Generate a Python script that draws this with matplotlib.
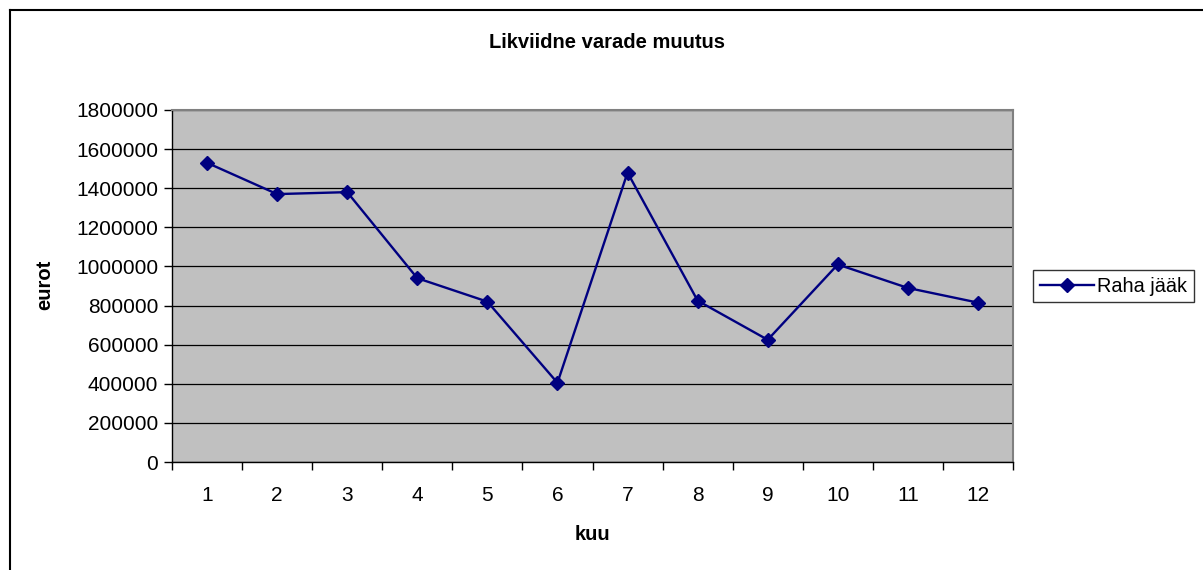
import matplotlib
matplotlib.use("Agg")
import matplotlib.pyplot as plt
from matplotlib.lines import Line2D
from matplotlib.ticker import FixedLocator, NullFormatter

months = [1, 2, 3, 4, 5, 6, 7, 8, 9, 10, 11, 12]
month_labels = ["1", "2", "3", "4", "5", "6", "7", "8", "9", "10", "11", "12"]
raha_jaak = [1530000, 1370000, 1380000, 940000, 820000, 405000,
             1480000, 825000, 625000, 1010000, 890000, 815000]
y_ticks = [0, 200000, 400000, 600000, 800000, 1000000, 1200000,
           1400000, 1600000, 1800000]

plt.rcParams['font.family'] = ['Liberation Sans', 'DejaVu Sans']

W, H = 1203, 570
fig = plt.figure(figsize=(W / 100, H / 100), dpi=100)
fig.patch.set_facecolor('white')

L, R, T, B = 172, 1013, 110, 462
ax = fig.add_axes([L / W, 1 - B / H, (R - L) / W, (B - T) / H])
ax.set_facecolor('#C0C0C0')

ax.plot(months, raha_jaak, color='#000080', lw=1.7, marker='D', ms=7.5,
        mfc='#000080', mec='#000080', label='Raha jääk', zorder=3)

ax.set_xlim(0.5, 12.5)
ax.set_ylim(0, 1800000)
ax.set_yticks(y_ticks)
ax.set_yticklabels([str(v) for v in y_ticks])
ax.yaxis.grid(True, color='black', lw=0.9)
ax.set_axisbelow(True)

ax.xaxis.set_major_locator(FixedLocator([m - 0.5 for m in months] + [12.5]))
ax.xaxis.set_major_formatter(NullFormatter())
ax.xaxis.set_minor_locator(FixedLocator(months))
ax.set_xticklabels(month_labels, minor=True)
ax.tick_params(axis='x', which='major', direction='out', length=6, width=1, color='black')
ax.tick_params(axis='x', which='minor', length=0, pad=17, labelsize=15)
ax.tick_params(axis='y', direction='out', length=6, width=1, color='black', labelsize=15, pad=4)

for s in ['left', 'bottom']:
    ax.spines[s].set_color('black')
    ax.spines[s].set_linewidth(1)
for s in ['top', 'right']:
    ax.spines[s].set_color('#808080')
    ax.spines[s].set_linewidth(1.5)

fig.text(607 / W, 1 - 42 / H, 'Likviidne varade muutus', ha='center', va='center',
         fontsize=14.5, fontweight='bold')
fig.text(592 / W, 1 - 535 / H, 'kuu', ha='center', va='center',
         fontsize=14.5, fontweight='bold')
fig.text(45 / W, 1 - 285 / H, 'eurot', ha='center', va='center', rotation=90,
         fontsize=14.5, fontweight='bold')

leg = fig.legend(loc='center left', bbox_to_anchor=(1033 / W, 1 - 286 / H),
                 frameon=True, fancybox=False, edgecolor='black', fontsize=14.3,
                 handlelength=2.7, borderpad=0.35, handletextpad=0.15,
                 borderaxespad=0)
leg.get_frame().set_linewidth(1)

# outer chart border (top and left visible)
fig.add_artist(Line2D([10 / W, 10 / W], [0, 1 - 10 / H], transform=fig.transFigure,
                      color='black', lw=1.5))
fig.add_artist(Line2D([10 / W, 1], [1 - 10 / H, 1 - 10 / H], transform=fig.transFigure,
                      color='black', lw=1.5))

fig.savefig('out.png', dpi=100)
